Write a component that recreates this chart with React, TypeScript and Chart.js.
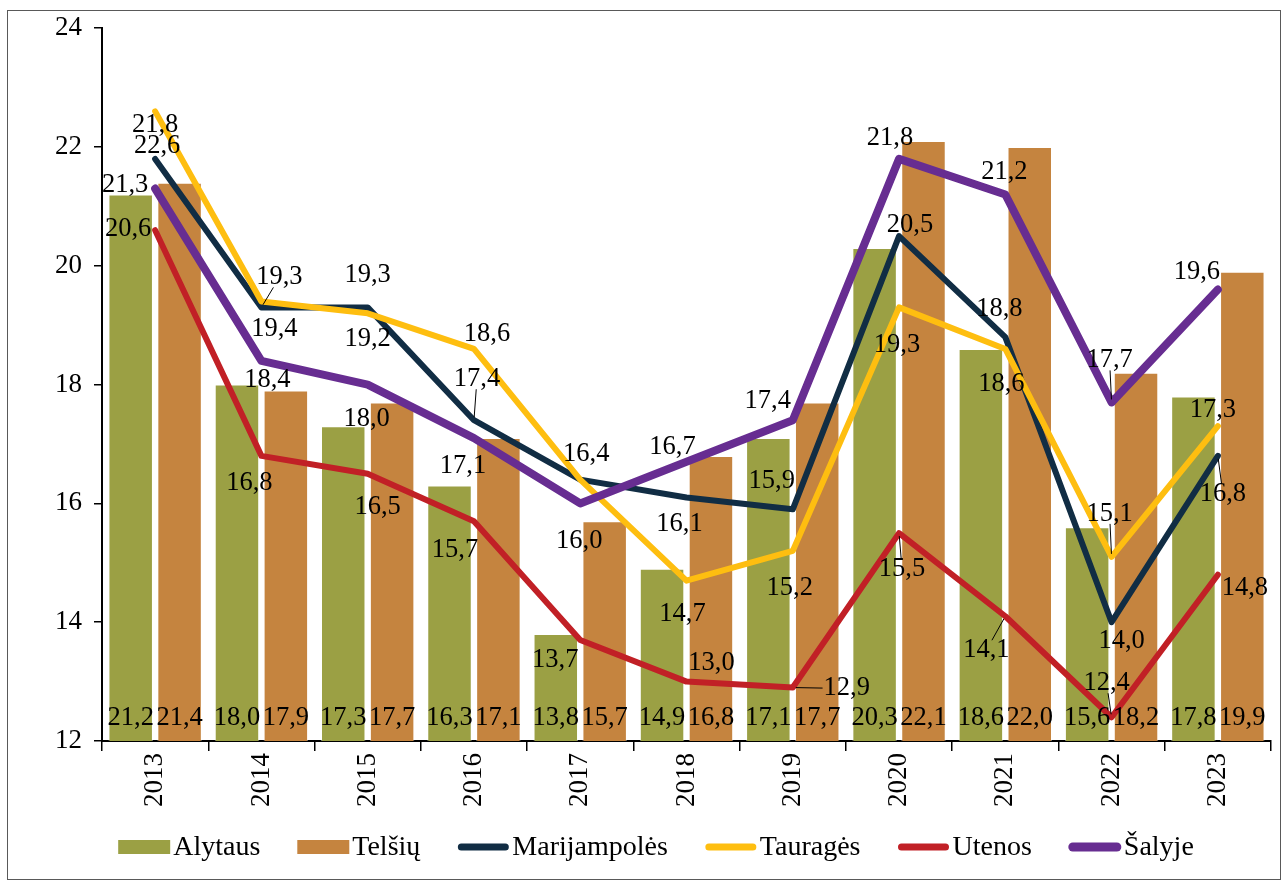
import React, { useEffect, useRef } from 'react';
import { Chart, registerables } from 'chart.js';

Chart.register(...registerables);

// ---- data ----
const years = ['2013', '2014', '2015', '2016', '2017', '2018', '2019', '2020', '2021', '2022', '2023'];
const alytaus = [21.2, 18.0, 17.3, 16.3, 13.8, 14.9, 17.1, 20.3, 18.6, 15.6, 17.8];
const telsiu = [21.4, 17.9, 17.7, 17.1, 15.7, 16.8, 17.7, 22.1, 22.0, 18.2, 19.9];
const marijampoles = [21.8, 19.3, 19.3, 17.4, 16.4, 16.1, 15.9, 20.5, 18.8, 14.0, 16.8];
const taurages = [22.6, 19.4, 19.2, 18.6, 16.4, 14.7, 15.2, 19.3, 18.6, 15.1, 17.3];
const utenos = [20.6, 16.8, 16.5, 15.7, 13.7, 13.0, 12.9, 15.5, 14.1, 12.4, 14.8];
const salyje = [21.3, 18.4, 18.0, 17.1, 16.0, 16.7, 17.4, 21.8, 21.2, 17.7, 19.6];

const yMin = 12;
const yMax = 24;
const yStep = 2;

// ---- label placement (style): [dx, dy, leader] relative to the point ----
type LP = [number, number, boolean] | null;
const navyLabels: LP[] = [
  [0, -34, false], [18, -30, true], [0, -32, false], [3, -41, true], [6, -26, false],
  [-7, 27, false], [-21, -28, false], [11, -11, false], [-6, -28, false], [10, 19, false], [5, 38, true],
];
const yellowLabels: LP[] = [
  [2, 35, false], [13, 28, false], [0, 26, false], [13, -15, false], null,
  [-4, 33, false], [-3, 37, false], [-2, 38, false], [-4, 35, false], [-2, -43, true], [-5, -16, false],
];
const redLabels: LP[] = [
  [-27, -1, false], [-12, 27, false], [10, 33, false], [-19, 29, false], [-25, 20, false],
  [25, -19, false], [54, 1, true], [3, 36, true], [-19, 34, true], [-5, -34, true], [27, 13, false],
];
const purpleLabels: LP[] = [
  [-30, -4, false], [6, 19, false], [-1, 34, false], [-11, 28, false], [-1, 38, false],
  [-14, -15, false], [-25, -19, false], [-9, -21, false], [-1, -22, false], [-2, -42, true], [-21, -18, false],
];

const FONT = '"Liberation Serif", "Times New Roman", serif';
const fmt = (v: number) => v.toFixed(1).replace('.', ',');

const framePlugin = {
  id: 'frame',
  beforeDraw(chart: any) {
    const ctx = chart.ctx;
    ctx.save();
    ctx.fillStyle = '#ffffff';
    ctx.fillRect(0, 0, chart.width, chart.height);
    ctx.strokeStyle = '#595959';
    ctx.lineWidth = 1;
    ctx.strokeRect(7.5, 10.5, 1273, 869);
    ctx.restore();
  },
};

const labelPlugin = {
  id: 'valueLabels',
  afterDatasetsDraw(chart: any) {
    const ctx = chart.ctx;
    ctx.save();
    ctx.font = `26.5px ${FONT}`;
    ctx.fillStyle = '#000';
    ctx.textAlign = 'center';
    ctx.textBaseline = 'middle';
    chart.data.datasets.forEach((ds: any, di: number) => {
      const meta = chart.getDatasetMeta(di);
      meta.data.forEach((el: any, i: number) => {
        const text = fmt(ds.data[i]);
        if (ds.type === 'bar') {
          ctx.fillText(text, el.x, chart.chartArea.bottom - 23);
          return;
        }
        const o: LP = ds.labelPos ? ds.labelPos[i] : null;
        if (!o) return;
        const lx = el.x + o[0];
        const ly = el.y + o[1];
        ctx.fillText(text, lx, ly);
        if (o[2]) {
          const hw = ctx.measureText(text).width / 2 + 1;
          const hh = 10;
          const ddx = el.x - lx;
          const ddy = el.y - ly;
          const s = Math.min(ddx !== 0 ? hw / Math.abs(ddx) : Infinity, ddy !== 0 ? hh / Math.abs(ddy) : Infinity);
          const ex = lx + ddx * s;
          const ey = ly + ddy * s;
          const len = Math.hypot(ddx, ddy);
          const sx = el.x - (ddx / len) * 3;
          const sy = el.y - (ddy / len) * 3;
          ctx.beginPath();
          ctx.strokeStyle = '#000';
          ctx.lineWidth = 1;
          ctx.moveTo(sx, sy);
          ctx.lineTo(ex, ey);
          ctx.stroke();
        }
      });
    });
    ctx.restore();
  },
};

const legendPlugin = {
  id: 'customLegend',
  afterDraw(chart: any) {
    const ctx = chart.ctx;
    ctx.save();
    ctx.font = `28px ${FONT}`;
    const items = chart.data.datasets.map((ds: any) => ({ ds, text: ds.label, w: ctx.measureText(ds.label).width }));
    const symW = 52;
    const gap = 3;
    const pad = 37;
    const total = items.reduce((a: number, it: any) => a + symW + gap + it.w, 0) + pad * (items.length - 1);
    let x = 656 - total / 2;
    const y = 847;
    items.forEach((it: any) => {
      if (it.ds.type === 'bar') {
        ctx.fillStyle = it.ds.backgroundColor;
        ctx.fillRect(x, y - 7, symW, 14);
      } else {
        ctx.strokeStyle = it.ds.borderColor;
        ctx.lineWidth = it.ds.borderWidth + 1;
        ctx.lineCap = 'round';
        ctx.beginPath();
        ctx.moveTo(x + 4, y);
        ctx.lineTo(x + symW - 4, y);
        ctx.stroke();
      }
      ctx.fillStyle = '#000';
      ctx.textAlign = 'left';
      ctx.textBaseline = 'middle';
      ctx.fillText(it.text, x + symW + gap, y + 1);
      x += symW + gap + it.w + pad;
    });
    ctx.restore();
  },
};

export default function App() {
  const ref = useRef<HTMLCanvasElement | null>(null);

  useEffect(() => {
    if (!ref.current) return;
    const barCommon = {
      type: 'bar' as const,
      categoryPercentage: 0.92,
      barPercentage: 0.91,
      borderWidth: 1,
      borderColor: 'rgba(255,255,255,0.45)',
      order: 10,
    };
    const lineCommon = {
      type: 'line' as const,
      pointRadius: 0,
      pointHoverRadius: 0,
      tension: 0,
      fill: false,
      borderJoinStyle: 'round' as const,
      borderCapStyle: 'round' as const,
    };
    const chart = new Chart(ref.current, {
      type: 'bar',
      data: {
        labels: years,
        datasets: [
          { ...barCommon, label: 'Alytaus', data: alytaus, backgroundColor: '#9BA044' },
          { ...barCommon, label: 'Telšių', data: telsiu, backgroundColor: '#C5843F' },
          { ...lineCommon, label: 'Marijampolės', data: marijampoles, borderColor: '#112D44', borderWidth: 6, order: 4, labelPos: navyLabels } as any,
          { ...lineCommon, label: 'Tauragės', data: taurages, borderColor: '#FEBE10', borderWidth: 6, order: 3, labelPos: yellowLabels } as any,
          { ...lineCommon, label: 'Utenos', data: utenos, borderColor: '#C12026', borderWidth: 6, order: 2, labelPos: redLabels } as any,
          { ...lineCommon, label: 'Šalyje', data: salyje, borderColor: '#672D91', borderWidth: 8, order: 1, labelPos: purpleLabels } as any,
        ],
      },
      options: {
        animation: false,
        responsive: false,
        maintainAspectRatio: false,
        layout: { padding: { top: 25, right: 14, bottom: 71, left: 0 } },
        plugins: {
          legend: { display: false },
          tooltip: { enabled: false },
        },
        scales: {
          x: {
            offset: true,
            grid: { offset: true, drawOnChartArea: false, drawTicks: true, tickLength: 10, color: '#000', lineWidth: 1.5 },
            border: { color: '#000', width: 2 },
            ticks: { color: '#000', font: { family: FONT, size: 27 }, minRotation: 90, maxRotation: 90, padding: 2, autoSkip: false },
            afterFit: (s: any) => { s.height = 70; },
          },
          y: {
            min: yMin,
            max: yMax,
            ticks: { stepSize: yStep, color: '#000', font: { family: FONT, size: 27 }, padding: 12 },
            grid: { drawOnChartArea: false, tickLength: 8, color: '#000', lineWidth: 1.5 },
            border: { color: '#000', width: 2 },
            afterFit: (s: any) => { s.width = 102; },
          },
        },
      },
      plugins: [framePlugin, labelPlugin, legendPlugin],
    });
    return () => chart.destroy();
  }, []);

  return (
    <canvas
      ref={ref}
      width={1285}
      height={882}
      style={{ position: 'fixed', left: 0, top: 0, width: 1285, height: 882 }}
    />
  );
}
